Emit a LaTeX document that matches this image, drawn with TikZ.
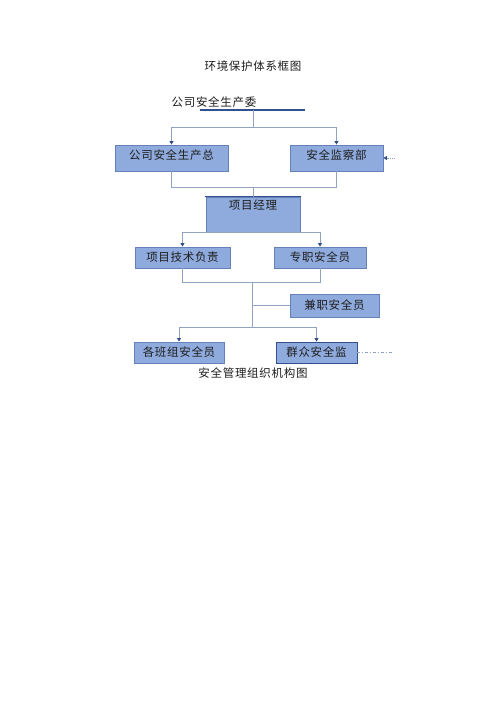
\documentclass[tikz,border=0pt]{standalone}
\usepackage{fontspec}
\newfontfamily\cjk[LetterSpace=6]{Noto Sans CJK SC}
\usetikzlibrary{arrows.meta}
\definecolor{boxfill}{RGB}{143,170,220}
\definecolor{boxline}{RGB}{100,130,185}
\definecolor{linkc}{RGB}{145,162,195}
\definecolor{darkb}{RGB}{50,80,140}
\definecolor{txt}{RGB}{30,30,30}
\def\midx{253}

\begin{document}
\begin{tikzpicture}[x=1pt,y=-1pt,
    word/.style={font=\cjk\fontsize{11.5}{13}\selectfont, text=txt, inner sep=0pt},
    unit/.style={word, draw=boxline, fill=boxfill, line width=.8pt,
      text height=8.5pt, text depth=.5pt},
    link/.style={draw=linkc, line width=.9pt},
    arr/.style={link, -{Triangle[width=4pt,length=3.5pt,fill=darkb,color=darkb]}},
    bar/.style={draw=darkb, line width=1.6pt}]
  \fill[white] (0,0) rectangle (500,707);
  \path[use as bounding box] (0,0) rectangle (500,707);

  \node[word] (title) at (253,66) {环境保护体系框图};
  \node[word] (wei) at (214,102) {公司安全生产委};
  \coordinate (wl) at (200,110);
  \coordinate (wr) at (305,110);
  \coordinate (wm) at (\midx,110);
  \draw[bar, line width=1.3pt] (wl) -- (wr);

  \node[unit, minimum width=113pt, minimum height=26pt, text depth=6.5pt] (zong) at (171.5,158) {公司安全生产总};
  \node[unit, minimum width=93pt, minimum height=26pt, text depth=6.5pt] (jiancha) at (336.5,158) {安全监察部};
  \draw[arr] (wm) -- ++(0,17) -| (zong.north);
  \draw[arr] (wm) -- ++(0,17) -| (jiancha.north);
  \coordinate (jd) at (395,158);
  \draw[arr, densely dotted] (jd) -- (jiancha.east);

  \node[unit, minimum width=94pt, minimum height=35pt, text depth=19.5pt] (jingli) at (\midx,214.5) {项目经理};
  \draw[bar] ([xshift=-1pt]jingli.north west) -- ([xshift=1pt]jingli.north east);
  \draw[bar, line width=1pt] (jingli.south west) -- (jingli.south east);
  \draw[link] (zong.south) -- ++(0,16) -| (jiancha.south);
  \coordinate (jm) at (\midx,187);
  \draw[link] (jm) -- (jingli.north);

  \node[unit, minimum width=95pt, minimum height=21pt] (jishu) at (182.5,257.5) {项目技术负责};
  \node[unit, minimum width=92pt, minimum height=21pt] (zhuanzhi) at (320,257.5) {专职安全员};
  \draw[arr] (jingli.south) -| (jishu.north);
  \draw[arr] (jingli.south) -| (zhuanzhi.north);
  \draw[link] (jishu.south) -- ++(0,14) -| (zhuanzhi.south);

  \node[unit, minimum width=89pt, minimum height=23pt] (jianzhi) at (334.5,305.5) {兼职安全员};
  \coordinate (c1) at (252,282);
  \coordinate (c2) at (252,327);
  \draw[link] (c1) -- (c2);
  \draw[link] (c1 |- jianzhi.west) -- (jianzhi.west);

  \node[unit, minimum width=90pt, minimum height=21pt] (banzu) at (179,352.5) {各班组安全员};
  \node[unit, draw=darkb, minimum width=81pt, minimum height=21pt] (qunzhong) at (316.5,352.5) {群众安全监};
  \draw[arr] (c2) -| (banzu.north);
  \draw[arr] (c2) -| (qunzhong.north);
  \coordinate (qd) at (393,352.5);
  \draw[link, dash dot] (qunzhong.east) -- (qd);

  \node[word] (caption) at (253,373) {安全管理组织机构图};
\end{tikzpicture}
\end{document}
